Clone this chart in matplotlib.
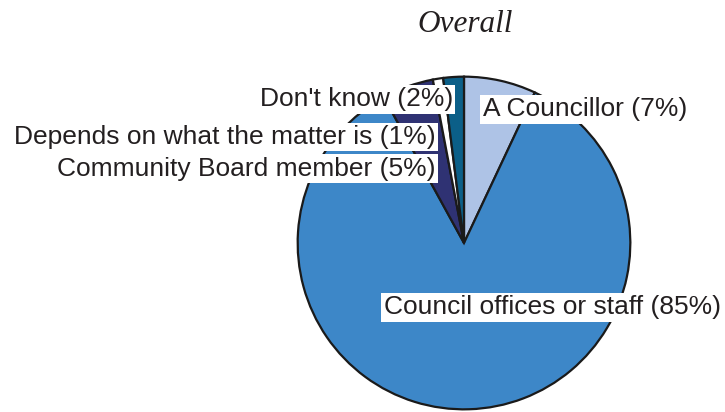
import matplotlib
matplotlib.use("Agg")
import matplotlib.pyplot as plt

# data
labels = ["A Councillor", "Council offices or staff", "Community Board member",
          "Depends on what the matter is", "Don't know"]
shares = [7, 85, 5, 1, 2]
colours = ["#aec3e6", "#3d87c8", "#2f3273", "#ffffff", "#0b5f88"]

# label anchors (text baseline) in pie units, centre 0,0 radius 1
label_pos = [(0.113, 0.762, "left"), (-0.482, -0.429, "left"), (-0.173, 0.405, "right"),
             (-0.173, 0.595, "right"), (-0.0655, 0.821, "right")]

W, H = 725, 412
cx, cy, r = 464, 243, 168

fig = plt.figure(figsize=(W / 100, H / 100), dpi=100)
ax = fig.add_axes([(cx - r) / W, (H - cy - r) / H, 2 * r / W, 2 * r / H])
ax.pie(shares, colors=colours, startangle=90, counterclock=False, radius=1,
       wedgeprops=dict(edgecolor="#1a1a1a", linewidth=1.6))
ax.set_xlim(-1.01, 1.01)
ax.set_ylim(-1.01, 1.01)
ax.set_aspect("equal")
ax.axis("off")

for name, val, (x, y, ha) in zip(labels, shares, label_pos):
    ax.text(x, y, f"{name} ({val}%)", ha=ha, va="baseline", fontsize=19,
            family="Liberation Sans", color="#231f20",
            bbox=dict(facecolor="white", edgecolor="none", pad=1.8), clip_on=False)

fig.text(465 / W, 1 - 32.5 / H, "Overall", ha="center", va="baseline", fontsize=22.5,
         family="Liberation Serif", style="italic", color="#231f20")

fig.savefig("out.png", dpi=100)
